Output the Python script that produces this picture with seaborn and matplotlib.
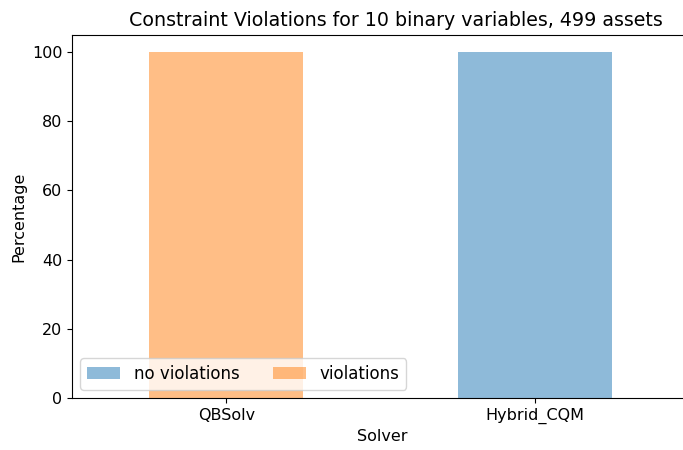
import seaborn as sns
import matplotlib.pyplot as plt
import pandas as pd

# Data
solvers = ['QBSolv', 'Hybrid_CQM']
no_violations = [0, 100]
violations = [100, 0]

df = pd.DataFrame({
    'Solver': solvers * 2,
    'status': ['no violations'] * 2 + ['violations'] * 2,
    'Percentage': no_violations + violations,
})

fig = plt.figure(figsize=(6.83, 4.5), dpi=100)
# right edge of the axes sits just outside the figure, as in the original (cropped) image
ax = fig.add_axes([0.1054, 0.1156, 0.908, 0.807])

sns.barplot(data=df, x='Solver', y='Percentage', hue='status', dodge=False,
            palette=['tab:blue', 'tab:orange'], alpha=0.5, width=0.5,
            saturation=1, ax=ax)

ax.set_xlim(-0.5, 1.51)
ax.set_ylim(0, 105)
ax.set_title('Constraint Violations for 10 binary variables, 499 assets',
             fontsize=13.7, x=0.523)
ax.set_xlabel('Solver', fontsize=11.5)
ax.set_ylabel('Percentage', fontsize=11.5)
ax.tick_params(labelsize=11.5)
ax.legend(loc='lower left', ncol=2, fontsize=12)

fig.savefig('out.png', dpi=100)
